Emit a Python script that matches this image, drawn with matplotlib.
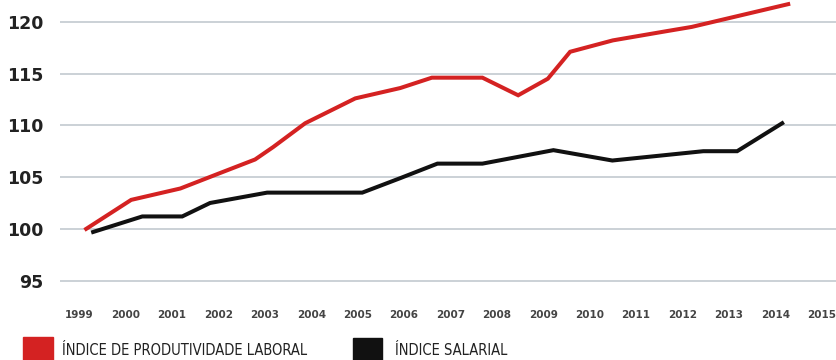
import matplotlib.pyplot as plt
from matplotlib.patches import Rectangle

# índice de produtividade laboral (1999 = 100)
anos_prod = [1999.15, 2000.12, 2001.18, 2002.04, 2002.79, 2003.18, 2003.87,
             2004.95, 2005.92, 2006.6, 2007.69, 2008.46, 2009.1, 2009.58,
             2010.5, 2011.67, 2012.2, 2014.28]
prod = [100.0, 102.8, 103.9, 105.4, 106.7, 107.9, 110.2,
        112.6, 113.6, 114.6, 114.6, 112.9, 114.5, 117.1,
        118.2, 119.1, 119.5, 121.7]

# índice salarial
anos_sal = [1999.3, 2000.36, 2001.22, 2001.82, 2003.05, 2005.1, 2005.92,
            2006.72, 2007.69, 2009.22, 2010.49, 2012.45, 2013.18, 2014.15]
sal = [99.7, 101.2, 101.2, 102.5, 103.5, 103.5, 104.9,
       106.3, 106.3, 107.6, 106.6, 107.5, 107.5, 110.2]

anos = list(range(1999, 2016))
yticks = [95, 100, 105, 110, 115, 120]

fig = plt.figure(figsize=(8.36, 3.6), dpi=100)
ax = fig.add_axes([0.072, 0.181, 0.928, 0.819])

ax.plot(anos_prod, prod, color='#d42222', lw=2.9, solid_joinstyle='miter', zorder=3)
ax.plot(anos_sal, sal, color='#111111', lw=2.9, solid_joinstyle='miter', zorder=3)

ax.set_xlim(1998.59, 2015.31)
ax.set_ylim(93.63, 122.1)
ax.set_yticks(yticks)
ax.set_xticks(anos)
ax.set_xticklabels([str(a) for a in anos], fontsize=7.5, fontweight='bold', color='#444444')
ax.set_yticklabels([str(v) for v in yticks], fontsize=12.5, fontweight='bold', color='#222222')
ax.tick_params(axis='both', length=0)
ax.tick_params(axis='x', pad=11)
ax.tick_params(axis='y', pad=12)
ax.grid(axis='y', color='#cbd1d6', lw=1.4)
ax.set_axisbelow(True)
for s in ax.spines.values():
    s.set_visible(False)

# legenda em baixo
W, H = 836, 360
fig.patches.append(Rectangle((23 / W, 0), 30 / W, 23 / H, transform=fig.transFigure,
                             color='#d42222', zorder=5))
fig.patches.append(Rectangle((353 / W, 0), 29 / W, 22 / H, transform=fig.transFigure,
                             color='#111111', zorder=5))
fig.text(62 / W, 2 / H, 'ÍNDICE DE PRODUTIVIDADE LABORAL', fontsize=10.5,
         family='DejaVu Sans', fontstretch='condensed', color='#222222', va='bottom')
fig.text(395 / W, 2 / H, 'ÍNDICE SALARIAL', fontsize=10.5,
         family='DejaVu Sans', fontstretch='condensed', color='#222222', va='bottom')

fig.savefig('out.png', dpi=100)
